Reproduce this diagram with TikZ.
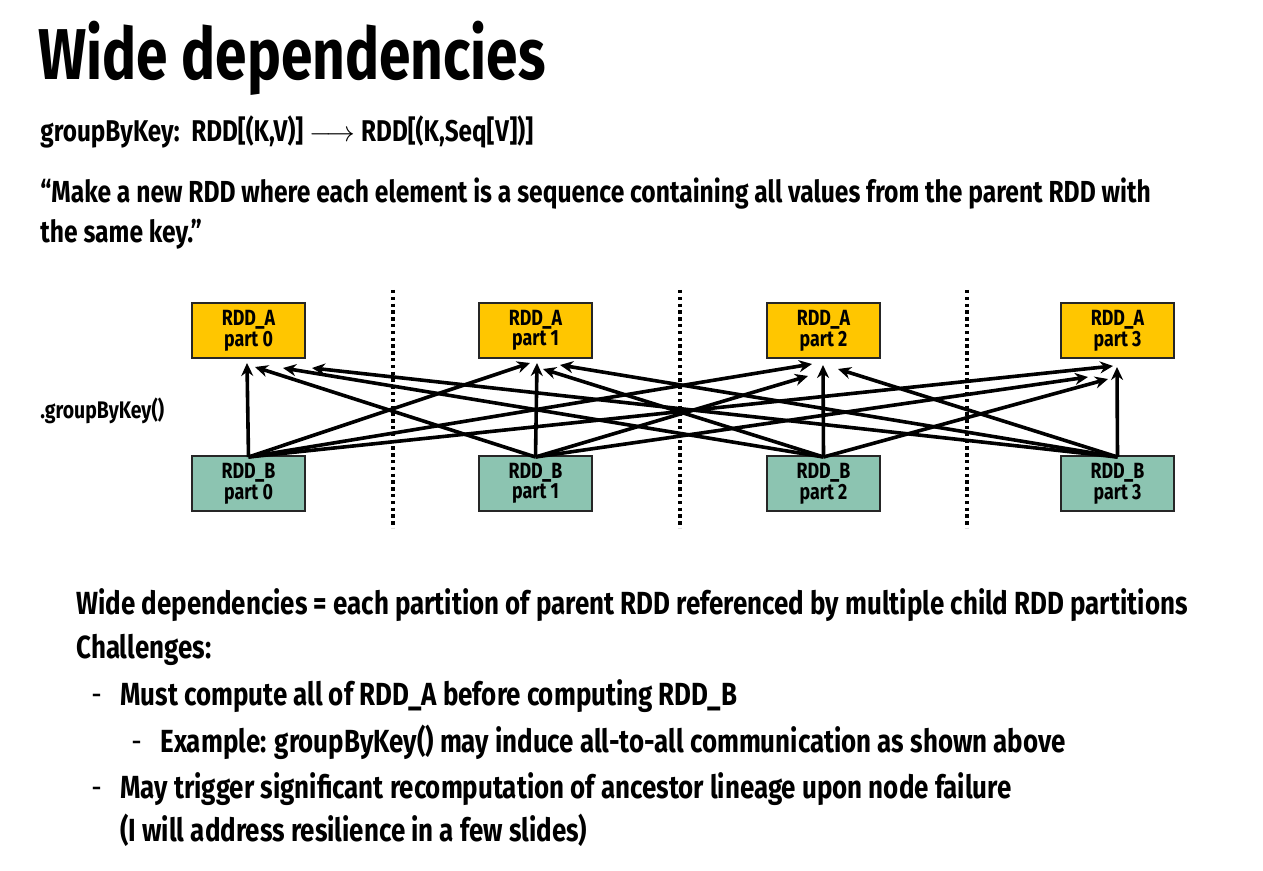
\documentclass[tikz,border=0pt]{standalone}
\usepackage{fontspec}
\setmainfont{Fira Sans}[FakeStretch=0.81]
\newfontfamily\headfont{Fira Sans}[FakeStretch=0.79]
\usepackage{tikz}
\usetikzlibrary{arrows.meta,positioning}
\definecolor{partA}{HTML}{FFC600}
\definecolor{partB}{HTML}{8CC4B1}

\begin{document}
\begin{tikzpicture}[
  x=0.5pt, y=-0.5pt,
  font=\bfseries,
  >={Stealth[length=6.5pt,width=6pt]},
  rddA/.style={draw=black!85, line width=1pt, fill=partA, align=center,
    minimum width=56.5pt, minimum height=27.5pt, inner sep=0pt,
    font=\bfseries\fontsize{11}{8.6}\selectfont},
  rddB/.style={rddA, fill=partB},
  dep/.style={->, line width=1.8pt, black},
  divider/.style={line width=1.7pt, dash pattern=on 1.7pt off 1.7pt},
  slide/.style={anchor=base west, inner sep=0pt},
  body/.style={slide, font=\bfseries\fontsize{16}{19}\selectfont},
  bullet/.style={slide, font=\mdseries\fontsize{16}{19}\selectfont}
]
  \useasboundingbox (0,0) rectangle (1263,871);

  % heading
  \node[slide, font=\headfont\bfseries\fontsize{36}{40}\selectfont] (title) at (38,80)
    {Wide dependencies};
  \node[slide, font=\bfseries\fontsize{15}{18}\selectfont] (sig) at (40,142)
    {groupByKey:\ \ RDD[(K,V)] $\longrightarrow$ RDD[(K,Seq[V])]};
  \node[slide, font=\bfseries\fontsize{15.2}{18}\selectfont] (quote1) at (40,203)
    {“Make a new RDD where each element is a sequence containing all values from the parent RDD with};
  \node[slide, font=\bfseries\fontsize{15.2}{18}\selectfont] (quote2) at (40,243)
    {the same key.”};

  % partitions
  \foreach \i/\cx in {0/248.5, 1/535.5, 2/823.5, 3/1117.5} {
    \node[rddA] (A\i) at (\cx,330.5) {RDD\_A\\part \i};
    \node[rddB] (B\i) at (\cx,483.5) {RDD\_B\\part \i};
  }
  \node[slide, font=\bfseries\fontsize{12}{14}\selectfont] (op) at (40,418)
    {.groupByKey()};

  \foreach \x [count=\k] in {393,680,967} {
    \coordinate (top\k) at (\x,290);
    \coordinate (bot\k) at (\x,528);
    \draw[divider] (top\k) -- (bot\k);
  }

  % all-to-all dependencies
  \foreach \s/\t/\dx/\dy in {
      0/0/-1.5/4, 1/0/6.5/8, 2/0/34.5/9, 3/0/63.5/9,
      0/1/-5.5/4, 1/1/1.5/4, 2/1/7.5/10, 3/1/24.5/6,
      0/2/-11.5/5, 1/2/-15.5/17, 2/2/-0.5/6, 3/2/14.5/10,
      0/3/-4.5/7, 1/3/-29.5/18, 2/3/-9.5/20, 3/3/-0.5/8}
    \draw[dep] ([yshift=-1pt]B\s.north) -- ([shift={(\dx,\dy)}]A\t.south);

  % notes
  \node[body] (wide) at (76,614)
    {Wide dependencies = each partition of parent RDD referenced by multiple child RDD partitions};
  \node[body] (chal) at (76,658) {Challenges:};
  \node[bullet] (dash1) at (91,705) {-};
  \node[body] (must) at (120,705) {Must compute all of RDD\_A before computing RDD\_B};
  \node[bullet] (dash2) at (131,752) {-};
  \node[body] (ex) at (160,752) {Example: groupByKey() may induce all-to-all communication as shown above};
  \node[bullet] (dash3) at (91,798) {-};
  \node[body] (may) at (120,798) {May trigger significant recomputation of ancestor lineage upon node failure};
  \node[body] (later) at (120,841) {(I will address resilience in a few slides)};
\end{tikzpicture}
\end{document}
